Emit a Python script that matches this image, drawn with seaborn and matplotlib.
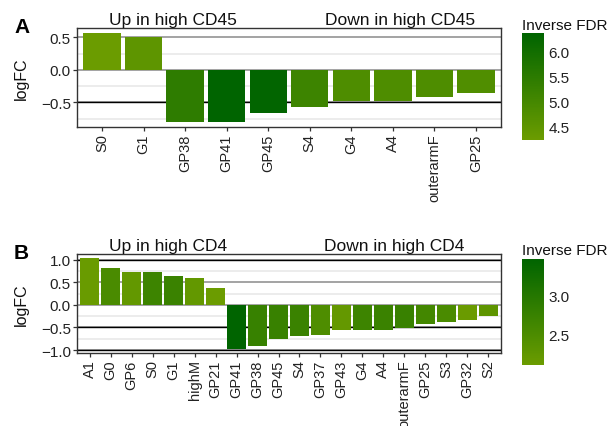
import matplotlib
matplotlib.use("Agg")
import matplotlib.pyplot as plt
from matplotlib.colors import LinearSegmentedColormap, Normalize
from matplotlib.cm import ScalarMappable
import seaborn as sns

# ---- data ----
cd45_genes = ["S0", "G1", "GP38", "GP41", "GP45", "S4", "G4", "A4", "outerarmF", "GP25"]
cd45_logfc = [0.566, 0.51, -0.81, -0.80, -0.66, -0.58, -0.475, -0.475, -0.415, -0.35]
cd45_invfdr = [4.23, 4.49, 5.45, 6.37, 6.33, 5.15, 4.81, 4.81, 4.81, 4.78]
cd45_ticks = [4.5, 5.0, 5.5, 6.0]

cd4_genes = ["A1", "G0", "GP6", "S0", "G1", "highM", "GP21", "GP41", "GP38", "GP45",
             "S4", "GP37", "GP43", "G4", "A4", "outerarmF", "GP25", "S3", "GP32", "S2"]
cd4_logfc = [1.04, 0.825, 0.72, 0.72, 0.633, 0.59, 0.37, -0.97, -0.91, -0.75,
             -0.69, -0.67, -0.56, -0.56, -0.56, -0.52, -0.42, -0.38, -0.33, -0.25]
cd4_invfdr = [2.14, 2.53, 2.22, 2.69, 2.73, 2.22, 2.11, 3.46, 2.76, 2.75,
              2.73, 2.48, 2.20, 2.69, 2.73, 2.75, 2.62, 2.53, 2.13, 2.27]
cd4_ticks = [2.5, 3.0]

sns.set_theme(style="white")
plt.rcParams["font.family"] = ["Liberation Sans", "DejaVu Sans"]
plt.rcParams["axes.unicode_minus"] = True

W, H = 613, 427
fig = plt.figure(figsize=(W / 100, H / 100), dpi=100)

cmap = LinearSegmentedColormap.from_list("invfdr", ["#6B9C00", "#006400"])


def fx(px):
    return px / W


def fy(py):
    return 1 - py / H


def panel(top, bottom, genes, logfc, invfdr, ylim, yticks, minor, black_lines,
          letter, up_title, down_title, up_x, down_x, cb_top, cb_bottom, cb_ticks):
    ax = fig.add_axes([fx(77), fy(bottom), fx(501) - fx(77), fy(top) - fy(bottom)])
    norm = Normalize(min(invfdr), max(invfdr))
    colors = [cmap(norm(v)) for v in invfdr]

    # grid lines behind the bars
    for m in minor:
        ax.axhline(m, color="#ebebeb", lw=1.3, zorder=0)
    for t in yticks:
        ax.axhline(t, color="#8a8a8a", lw=1.1, zorder=0.5)
    for b in black_lines:
        ax.axhline(b, color="black", lw=1.0, zorder=0.6)

    sns.barplot(x=genes, y=logfc, hue=genes, order=genes, hue_order=genes,
                palette=colors, saturation=1, width=0.9, legend=False, ax=ax,
                linewidth=0, edgecolor="none", zorder=2)

    n = len(genes)
    ax.set_xlim(-0.6, n - 0.4)
    ax.set_ylim(*ylim)
    ax.set_yticks(yticks)
    ax.set_yticklabels([f"{t:.1f}".replace("-", "\u2212") for t in yticks])
    ax.set_xlabel("")
    ax.set_ylabel("")
    ax.tick_params(axis="y", labelsize=11, length=3, width=0.9, color="#333333",
                   pad=1.5, labelcolor="#222222", left=True)
    ax.tick_params(axis="x", labelsize=10.5, length=3, width=0.9, color="#333333",
                   pad=1.5, labelcolor="#222222", rotation=90, bottom=True)
    for s in ax.spines.values():
        s.set_color("#333333")
        s.set_linewidth(1.0)
        s.set_zorder(5)

    # titles above the two halves
    fig.text(fx(77) + (fx(501) - fx(77)) * up_x, fy(top - 3.5), up_title,
             ha="center", va="baseline", fontsize=12.5, color="#111111")
    fig.text(fx(77) + (fx(501) - fx(77)) * down_x, fy(top - 3.5), down_title,
             ha="center", va="baseline", fontsize=12.5, color="#111111")
    fig.text(fx(14), fy(top + 4), letter, ha="left", va="baseline",
             fontsize=15, fontweight="bold", color="black")
    fig.text(fx(21), fy((top + bottom) / 2), "logFC", rotation=90,
             ha="center", va="center", fontsize=11.5, color="#111111")

    # colour bar
    cax = fig.add_axes([fx(522), fy(cb_bottom), fx(544) - fx(522),
                        fy(cb_top) - fy(cb_bottom)])
    cb = fig.colorbar(ScalarMappable(norm=norm, cmap=cmap), cax=cax)
    cb.outline.set_visible(False)
    cb.set_ticks(cb_ticks)
    cb.set_ticklabels([f"{t:.1f}" for t in cb_ticks])
    cax.tick_params(left=True, right=True, labelleft=False, labelright=True,
                    direction="in", color="white", length=4, width=0.8,
                    labelsize=11, pad=3, labelcolor="#222222")
    fig.text(fx(522), fy(cb_top - 4.5), "Inverse FDR", ha="left", va="baseline",
             fontsize=11, color="#111111")
    return ax


panel(29, 128, cd45_genes, cd45_logfc, cd45_invfdr, (-0.88, 0.643),
      [-0.5, 0.0, 0.5], [-0.75, -0.25, 0.25], [-0.5],
      "A", "Up in high CD45", "Down in high CD45", 0.226, 0.762,
      34, 141, cd45_ticks)

panel(255, 354, cd4_genes, cd4_logfc, cd4_invfdr, (-1.066, 1.126),
      [-1.0, -0.5, 0.0, 0.5, 1.0], [-0.75, -0.25, 0.25, 0.75], [-1.0, -0.5, 1.0],
      "B", "Up in high CD4", "Down in high CD4", 0.215, 0.749,
      260, 366, cd4_ticks)

fig.savefig("out.png", dpi=100)
